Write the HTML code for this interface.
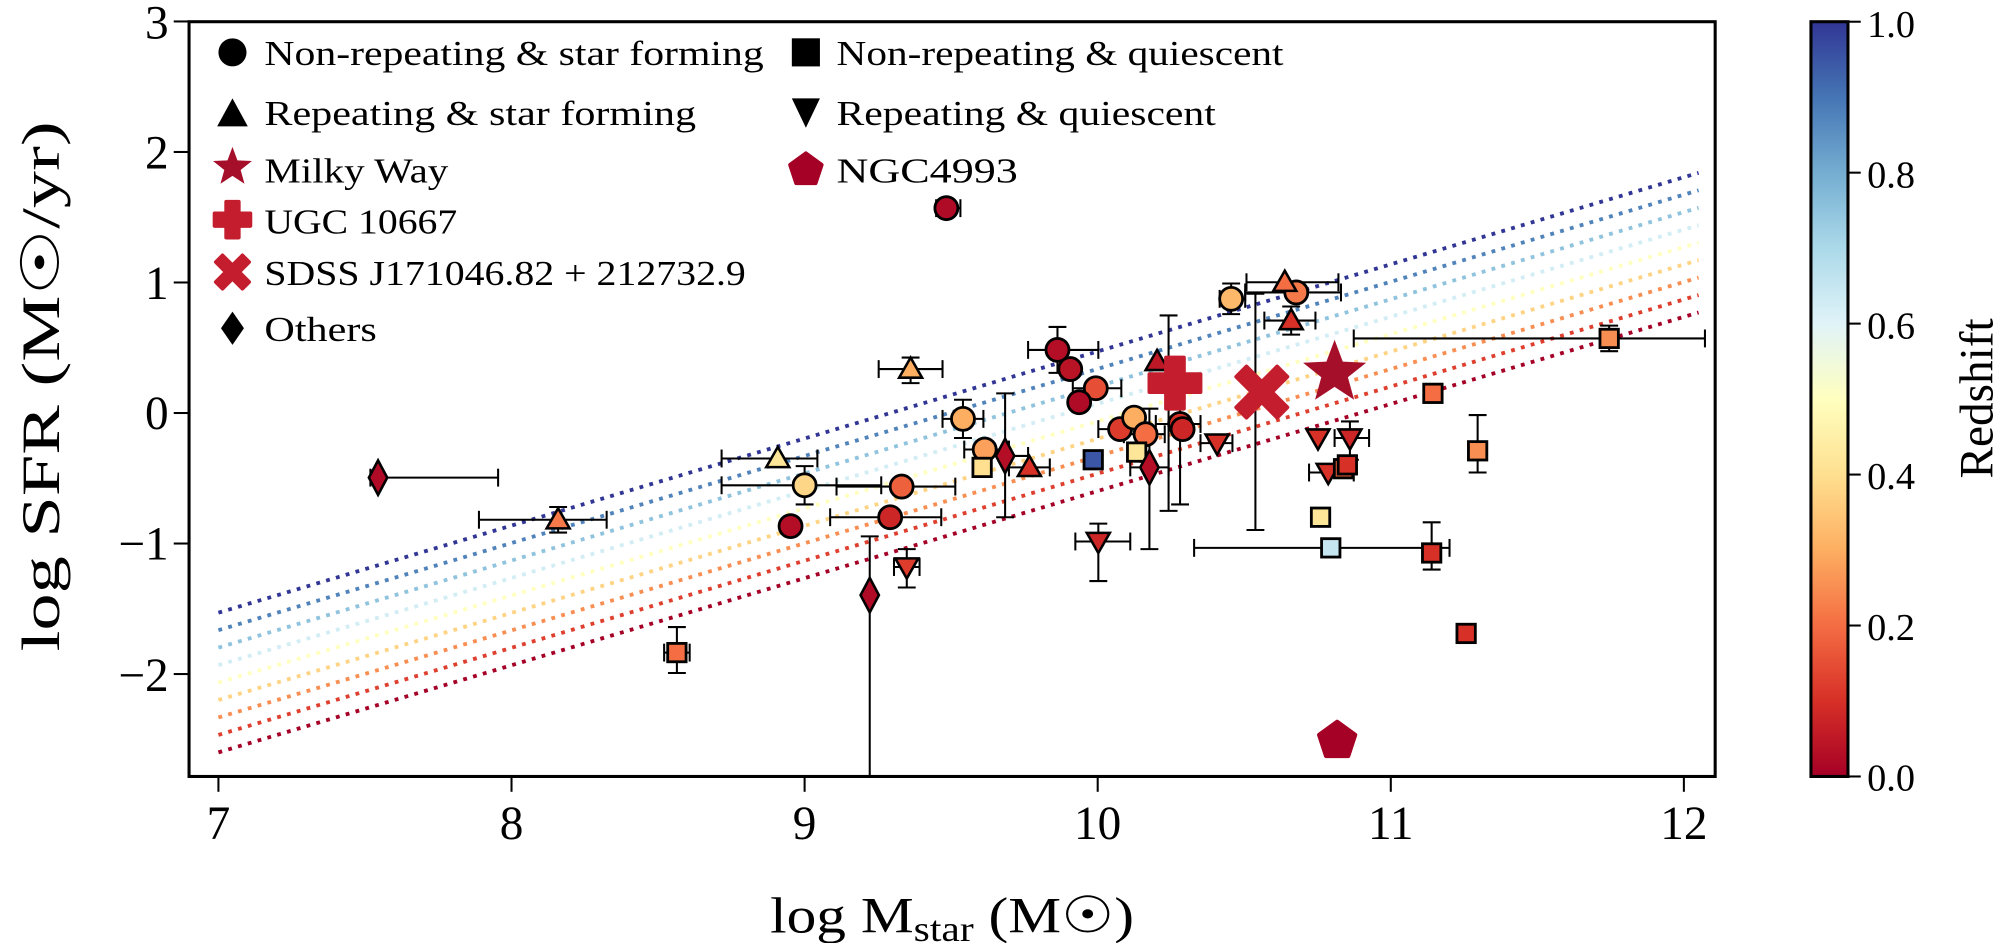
<!DOCTYPE html>
<html><head><meta charset="utf-8"><style>
html,body{margin:0;padding:0;background:#fff;width:2000px;height:943px;overflow:hidden}
svg{display:block}
text{font-family:"Liberation Serif","DejaVu Serif",serif;fill:#000}
</style></head><body>
<svg id="s" width="2000" height="943" viewBox="0 0 1566 738.4" xmlns="http://www.w3.org/2000/svg">
<defs>
<linearGradient id="cb" x1="0" y1="1" x2="0" y2="0">
<stop offset="0" stop-color="#a50026"/><stop offset="0.1" stop-color="#d73027"/><stop offset="0.2" stop-color="#f46d43"/><stop offset="0.3" stop-color="#fdae61"/><stop offset="0.4" stop-color="#fee090"/><stop offset="0.5" stop-color="#ffffbf"/><stop offset="0.6" stop-color="#e0f3f8"/><stop offset="0.7" stop-color="#abd9e9"/><stop offset="0.8" stop-color="#74add1"/><stop offset="0.9" stop-color="#4575b4"/><stop offset="1" stop-color="#313695"/>
</linearGradient>
<clipPath id="cp"><rect x="148" y="17" width="1195" height="591"/></clipPath>
</defs>
<g id="lines" clip-path="url(#cp)"></g>
<g id="err" clip-path="url(#cp)" stroke="#000" stroke-width="1.6" fill="none"></g>
<g id="pts" clip-path="url(#cp)"></g>
<rect x="148" y="17" width="1195" height="591" fill="none" stroke="#000" stroke-width="2.4"/>
<g id="ticks" stroke="#000" stroke-width="1.6"></g>
<g font-size="37" text-anchor="middle">
<text x="171" y="657">7</text><text x="400.5" y="657">8</text><text x="630" y="657">9</text><text x="859.5" y="657">10</text><text x="1089" y="657">11</text><text x="1318.5" y="657">12</text>
</g>
<g font-size="37" text-anchor="end">
<text x="132" y="30">3</text><text x="132" y="132">2</text><text x="132" y="234">1</text><text x="132" y="336">0</text><text x="132" y="438">−1</text><text x="132" y="541">−2</text>
</g>
<text x="603" y="730" font-size="40" textLength="285" lengthAdjust="spacingAndGlyphs">log M<tspan font-size="28" dy="7">star</tspan><tspan dy="-7"> (M☉)</tspan></text>
<text transform="translate(46,510) rotate(-90)" font-size="42" textLength="415" lengthAdjust="spacingAndGlyphs">log SFR (M☉/yr)</text>
<g font-size="27">
<text x="207" y="51" textLength="391" lengthAdjust="spacingAndGlyphs">Non-repeating &amp; star forming</text>
<text x="207" y="98" textLength="338" lengthAdjust="spacingAndGlyphs">Repeating &amp; star forming</text>
<text x="207" y="143" textLength="144" lengthAdjust="spacingAndGlyphs">Milky Way</text>
<text x="207" y="183" textLength="151" lengthAdjust="spacingAndGlyphs">UGC 10667</text>
<text x="207" y="223" textLength="377" lengthAdjust="spacingAndGlyphs">SDSS J171046.82 + 212732.9</text>
<text x="207" y="267" textLength="88" lengthAdjust="spacingAndGlyphs">Others</text>
<text x="655" y="51" textLength="350" lengthAdjust="spacingAndGlyphs">Non-repeating &amp; quiescent</text>
<text x="655" y="98" textLength="297" lengthAdjust="spacingAndGlyphs">Repeating &amp; quiescent</text>
<text x="655" y="143" textLength="142" lengthAdjust="spacingAndGlyphs">NGC4993</text>
</g>
<g id="leg"></g>
<rect x="1418" y="17" width="29" height="591" fill="url(#cb)" stroke="#000" stroke-width="2.4"/>
<g font-size="30">
<text x="1462" y="619">0.0</text><text x="1462" y="501">0.2</text><text x="1462" y="383">0.4</text><text x="1462" y="265">0.6</text><text x="1462" y="147">0.8</text><text x="1462" y="29">1.0</text>
</g>
<text transform="translate(1560,312) rotate(-90)" font-size="37" text-anchor="middle">Redshift</text>
</svg>
<script>
const NS="http://www.w3.org/2000/svg";
const X=v=>171+(v-7)*229.5, Y=v=>323.4-102.2*v;
const stops=[[0,"#a50026"],[.1,"#d73027"],[.2,"#f46d43"],[.3,"#fdae61"],[.4,"#fee090"],[.5,"#ffffbf"],[.6,"#e0f3f8"],[.7,"#abd9e9"],[.8,"#74add1"],[.9,"#4575b4"],[1,"#313695"]];
function h2r(h){return [1,3,5].map(i=>parseInt(h.substr(i,2),16))}
function cm(z){for(let i=0;i<stops.length-1;i++){const[a,ca]=stops[i],[b,cb]=stops[i+1];if(z<=b){const t=(z-a)/(b-a),A=h2r(ca),B=h2r(cb);return"rgb("+A.map((v,k)=>Math.round(v+(B[k]-v)*t)).join(",")+")"}}return stops[10][1]}
function el(p,tag,at){const e=document.createElementNS(NS,tag);for(const k in at)e.setAttribute(k,at[k]);document.getElementById(p).appendChild(e);return e}
for(let i=0;i<9;i++){const z=i/8;const b=-2.6+1.07*z;el("lines","line",{x1:171,y1:Y(b),x2:1330,y2:Y(b+0.67*5.03),stroke:cm(z),"stroke-width":3,"stroke-dasharray":"3 5"})}
[7,8,9,10,11,12].forEach(v=>el("ticks","line",{x1:X(v),x2:X(v),y1:608,y2:620}));
[3,2,1,0,-1,-2].forEach(v=>el("ticks","line",{x1:136,x2:148,y1:Y(v),y2:Y(v)}));
[0,.2,.4,.6,.8,1].forEach(v=>el("ticks","line",{x1:1447,x2:1457,y1:608-591*v,y2:608-591*v}));
function marker(g,t,x,y,c,s){
 s=s||9;
 if(t=="o")el(g,"circle",{cx:x,cy:y,r:s,fill:c,stroke:"#000","stroke-width":2.2});
 else if(t=="s")el(g,"rect",{x:x-s*0.8,y:y-s*0.8,width:s*1.6,height:s*1.6,fill:c,stroke:"#000","stroke-width":2.2});
 else if(t=="^")el(g,"polygon",{points:`${x},${y-s} ${x-s},${y+s*0.75} ${x+s},${y+s*0.75}`,fill:c,stroke:"#000","stroke-width":2});
 else if(t=="v")el(g,"polygon",{points:`${x},${y+s} ${x-s},${y-s*0.75} ${x+s},${y-s*0.75}`,fill:c,stroke:"#000","stroke-width":2});
 else if(t=="d")el(g,"polygon",{points:`${x},${y-s*1.5} ${x-s*0.8},${y} ${x},${y+s*1.5} ${x+s*0.8},${y}`,fill:c,stroke:"#000","stroke-width":2});
}
function err(x,y,x0,x1,y0,y1){
 if(x0!=null){el("err","line",{x1:x0,y1:y,x2:x1,y2:y});el("err","line",{x1:x0,y1:y-7,x2:x0,y2:y+7});el("err","line",{x1:x1,y1:y-7,x2:x1,y2:y+7})}
 if(y0!=null){el("err","line",{x1:x,y1:y0,x2:x,y2:y1});el("err","line",{x1:x-7,y1:y0,x2:x+7,y2:y0});el("err","line",{x1:x-7,y1:y1,x2:x+7,y2:y1})}
}
const P=[
["o",741,163,.02,733,752],
["o",828,274,.03,805,860,256,292],["o",838,289,.04],["o",858,304,.15,840,878],["o",845,315,.02],
["o",754,328,.3,738,770,313,343],["o",630,380,.38,565,690,365,395],["o",706,381,.18,655,748],
["o",619,412,.03],["o",697,405,.08,650,737],["o",771,352,.28,755,790],
["o",877,336,.12,860,895],["o",888,327,.3],["o",897,340,.2,880,912],["o",924,332,.1,905,940,300,395],["o",926,336,.08],
["o",964,234,.32,955,975,222,246],["o",1015,229,.22,975,1050],
["^",437,407,.22,375,475,397,417],["^",609,359,.42,565,640],["^",713,289,.3,688,738,280,300],["^",806,366,.1,790,822],
["^",906,283,.05],["^",1006,221,.2,976,1048],["^",1011,251,.1,990,1030,240,262],
["v",710,444,.12,700,720,430,460],["v",860,424,.08,842,885,410,455],["v",953,347,.1,940,965],
["v",1032,343,.1],["v",1040,370,.1,1025,1060],["v",1057,343,.08,1045,1072,330,360],
["s",530,511,.2,520,540,491,527],["s",769,366,.4],["s",856,360,.95],["s",890,354,.42],
["s",1034,405,.42],["s",1042,429,.65,935,1135],["s",1052,367,.18],["s",1055,364,.1],
["s",1122,308,.2],["s",1121,433,.1,null,null,409,446],["s",1148,496,.1],["s",1157,353,.25,null,null,325,370],["s",1260,265,.25,1060,1335,255,275],
["d",296,374,.02,290,390],["d",681,466,.02,null,null,420,608],["d",787,357,.03,770,805,308,405],["d",900,366,.03,885,915,320,430]
];
P.forEach(p=>{const[t,x,y,z,a,b,c,d]=p;err(x,y,a!=null?a:null,b,c!=null?c:null,d)});
err(983,307,null,null,230,415);err(915,300,null,null,247,400);
P.forEach(p=>marker("pts",p[0],p[1],p[2],cm(p[3])));
function plus(g,x,y,s,c){el(g,"path",{d:`M${x-s*0.35},${y-s}h${s*0.7}v${s*0.65}h${s*0.65}v${s*0.7}h${-s*0.65}v${s*0.65}h${-s*0.7}v${-s*0.65}h${-s*0.65}v${-s*0.7}h${s*0.65}z`,fill:c,"stroke-linejoin":"round",stroke:c,"stroke-width":3})}
function cross(g,x,y,s,c){el(g,"path",{d:`M${x-s},${y-s*0.6}L${x-s*0.6},${y-s}L${x},${y-s*0.4}L${x+s*0.6},${y-s}L${x+s},${y-s*0.6}L${x+s*0.4},${y}L${x+s},${y+s*0.6}L${x+s*0.6},${y+s}L${x},${y+s*0.4}L${x-s*0.6},${y+s}L${x-s},${y+s*0.6}L${x-s*0.4},${y}z`,fill:c,stroke:c,"stroke-width":3,"stroke-linejoin":"round"})}
function star(g,x,y,s,c){let pts=[];for(let i=0;i<10;i++){const r=i%2?s*0.42:s,a=-Math.PI/2+i*Math.PI/5;pts.push((x+r*Math.cos(a)).toFixed(1)+","+(y+r*Math.sin(a)).toFixed(1))}el(g,"polygon",{points:pts.join(" "),fill:c})}
function pent(g,x,y,s,c){let pts=[];for(let i=0;i<5;i++){const a=-Math.PI/2+i*2*Math.PI/5;pts.push((x+s*Math.cos(a)).toFixed(1)+","+(y+s*Math.sin(a)).toFixed(1))}el(g,"polygon",{points:pts.join(" "),fill:c,stroke:c,"stroke-width":3,"stroke-linejoin":"round"})}
plus("pts",920,300,20,"#c41e2e");
cross("pts",988,307,20,"#c41e2e");
star("pts",1045,292,26,"#a50f2a");
pent("pts",1047,580,15,"#a50026");
const L="leg";
el(L,"circle",{cx:182,cy:41,r:11,fill:"#000"});
el(L,"polygon",{points:"182,77 170,99 194,99",fill:"#000"});
star(L,182,131,16,"#a50f2a");
plus(L,182,172,14,"#c41e2e");
cross(L,182,213,13,"#c41e2e");
el(L,"polygon",{points:"182,244 173,257 182,270 191,257",fill:"#000"});
el(L,"rect",{x:620,y:30,width:22,height:22,fill:"#000"});
el(L,"polygon",{points:"620,77 642,77 631,100",fill:"#000"});
pent(L,631,133,13,"#a50026");
</script>
</body></html>
